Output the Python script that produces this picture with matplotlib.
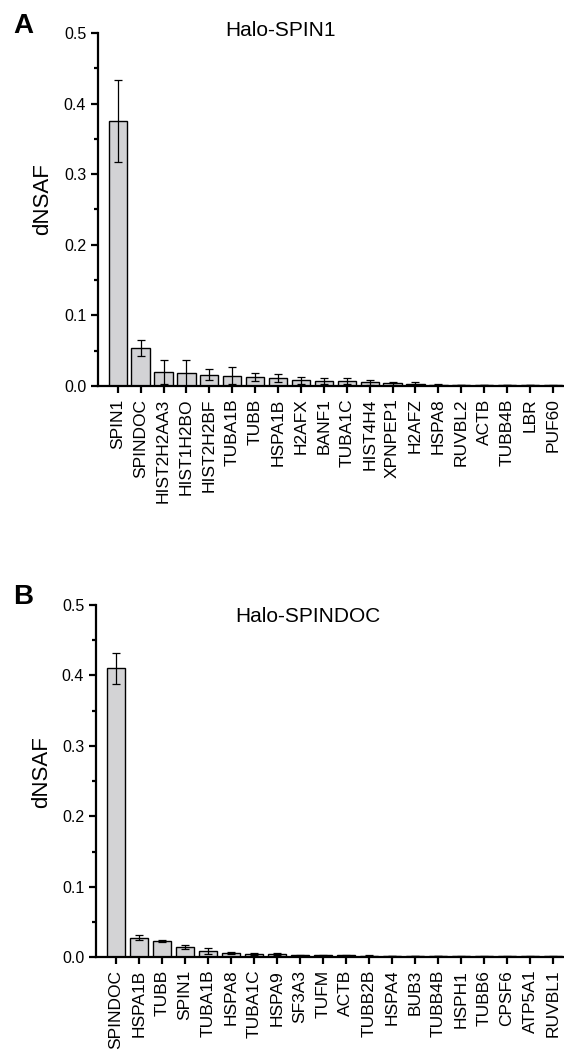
import matplotlib
matplotlib.use("Agg")
import matplotlib.pyplot as plt
from matplotlib.ticker import MultipleLocator

plt.rcParams["font.family"] = ["Liberation Sans", "DejaVu Sans"]

# Halo-SPIN1 pulldown
spin1_genes = ["SPIN1", "SPINDOC", "HIST2H2AA3", "HIST1H2BO", "HIST2H2BF", "TUBA1B",
               "TUBB", "HSPA1B", "H2AFX", "BANF1", "TUBA1C", "HIST4H4", "XPNPEP1",
               "H2AFZ", "HSPA8", "RUVBL2", "ACTB", "TUBB4B", "LBR", "PUF60"]
spin1_vals = [0.375, 0.054, 0.020, 0.0185, 0.016, 0.0145, 0.013, 0.011, 0.008, 0.007,
              0.007, 0.005, 0.004, 0.003, 0.002, 0.0015, 0.0015, 0.0012, 0.0012, 0.001]
spin1_err = [0.058, 0.011, 0.017, 0.018, 0.008, 0.012, 0.006, 0.006, 0.005, 0.004,
             0.0045, 0.003, 0.002, 0.002, 0.0006, 0.0005, 0.0005, 0.0004, 0.0004, 0.0003]

# Halo-SPINDOC pulldown
spindoc_genes = ["SPINDOC", "HSPA1B", "TUBB", "SPIN1", "TUBA1B", "HSPA8", "TUBA1C",
                 "HSPA9", "SF3A3", "TUFM", "ACTB", "TUBB2B", "HSPA4", "BUB3", "TUBB4B",
                 "HSPH1", "TUBB6", "CPSF6", "ATP5A1", "RUVBL1"]
spindoc_vals = [0.410, 0.028, 0.023, 0.0147, 0.0085, 0.006, 0.005, 0.0045, 0.003, 0.0028,
                0.0028, 0.0022, 0.002, 0.002, 0.0018, 0.0015, 0.0015, 0.0013, 0.0012, 0.0012]
spindoc_err = [0.022, 0.003, 0.002, 0.0025, 0.004, 0.002, 0.0015, 0.0015, 0.0008, 0.0006,
               0.0008, 0.0005, 0.0005, 0.0005, 0.0004, 0.0004, 0.0004, 0.0003, 0.0003, 0.0003]

y_ticks = [0.0, 0.1, 0.2, 0.3, 0.4, 0.5]
y_ticklabels = ["0.0", "0.1", "0.2", "0.3", "0.4", "0.5"]


def draw_panel(ax, genes, vals, errs):
    x = list(range(len(genes)))
    ax.bar(x, vals, width=0.8, color="#d3d3d5", edgecolor="black", linewidth=1.0,
           yerr=errs, capsize=2.6,
           error_kw=dict(elinewidth=0.9, capthick=0.9, ecolor="black"))
    ax.set_xlim(-0.86, len(genes) - 0.52)
    ax.set_ylim(0, 0.5)
    ax.set_xticks(x)
    ax.set_xticklabels(genes, rotation=90, fontsize=12.5)
    ax.set_yticks(y_ticks)
    ax.set_yticklabels(y_ticklabels, fontsize=11.5)
    ax.yaxis.set_minor_locator(MultipleLocator(0.05))
    for s in ("top", "right"):
        ax.spines[s].set_visible(False)
    for s in ("left", "bottom"):
        ax.spines[s].set_linewidth(1.6)
    ax.tick_params(axis="both", which="major", direction="out", length=5, width=1.6)
    ax.tick_params(axis="y", which="minor", direction="out", length=3, width=1.6)
    ax.tick_params(axis="x", pad=4)


fig = plt.figure(figsize=(5.64, 10.53), dpi=100)

ax_a = fig.add_axes([0.1738, 0.6334, 0.826, 0.3353])
draw_panel(ax_a, spin1_genes, spin1_vals, spin1_err)

ax_b = fig.add_axes([0.1702, 0.0909, 0.830, 0.3346])
draw_panel(ax_b, spindoc_genes, spindoc_vals, spindoc_err)

fig.text(0.498, 0.9706, "Halo-SPIN1", ha="center", va="center", fontsize=15)
fig.text(0.545, 0.415, "Halo-SPINDOC", ha="center", va="center", fontsize=15)

fig.text(43 / 564, 1 - 199 / 1053, "dNSAF", rotation=90, ha="center", va="center", fontsize=16)
fig.text(42 / 564, 1 - 772 / 1053, "dNSAF", rotation=90, ha="center", va="center", fontsize=16)

fig.text(23 / 564, 1 - 26 / 1053, "A", ha="center", va="center", fontsize=20, fontweight="bold")
fig.text(23 / 564, 1 - 597 / 1053, "B", ha="center", va="center", fontsize=20, fontweight="bold")

fig.savefig("out.png", dpi=100)
